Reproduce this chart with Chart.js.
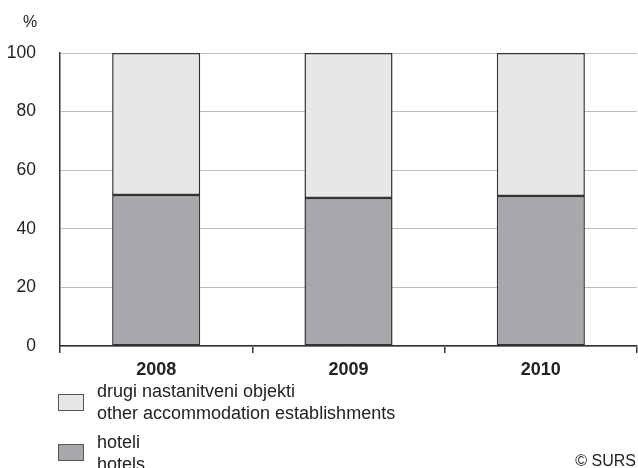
<!DOCTYPE html>
<html>
<head>
<meta charset="utf-8">
<script src="https://cdn.jsdelivr.net/npm/chart.js@4/dist/chart.umd.min.js"></script>
<style>
  html,body{margin:0;padding:0;background:#fff;}
  #wrap{width:638px;height:468px;position:relative;}
</style>
</head>
<body>
<div id="wrap"><canvas id="c" width="638" height="468"></canvas></div>
<script>
// data
const years = ['2008','2009','2010'];
const hoteli = [51.5, 50.5, 51.2];
const drugi = [48.5, 49.5, 48.8];
const yTicks = [0,20,40,60,80,100];
const legendItems = [
  { lines:['drugi nastanitveni objekti','other accommodation establishments'], color:'#e6e7e8' },
  { lines:['hoteli','hotels'], color:'#a7a8ab' }
];

const FONT = 'Liberation Sans, Arial, sans-serif';

// extra text: % unit, legend, source
const extrasPlugin = {
  id:'extras',
  afterDraw(chart){
    const ctx = chart.ctx;
    ctx.save();
    ctx.fillStyle = '#222';
    ctx.font = '16px ' + FONT;
    ctx.textBaseline = 'alphabetic';
    ctx.textAlign = 'left';
    ctx.fillText('%', 23, 27);

    // legend: box top, first baseline
    const rows = [[394, 397], [444, 448]];
    legendItems.forEach((it,i)=>{
      const y = rows[i][0], b = rows[i][1];
      ctx.fillStyle = it.color;
      ctx.fillRect(58, y, 26, 17);
      ctx.strokeStyle = '#555';
      ctx.lineWidth = 1;
      ctx.strokeRect(58.5, y+0.5, 25, 16);
      ctx.fillStyle = '#222';
      ctx.font = '18px ' + FONT;
      ctx.fillText(it.lines[0], 97, b);
      ctx.fillText(it.lines[1], 97, b+22);
    });

    ctx.textAlign = 'right';
    ctx.font = '16px ' + FONT;
    ctx.fillText('© SURS', 636, 466);
    ctx.restore();
  }
};

new Chart(document.getElementById('c').getContext('2d'), {
  type:'bar',
  data:{
    labels: years,
    datasets:[
      { label:'hoteli', data:hoteli, backgroundColor:'#a7a8ab', borderColor:'#333', borderWidth:1.5, borderSkipped:false },
      { label:'drugi nastanitveni objekti', data:drugi, backgroundColor:'#e6e7e8', borderColor:'#333', borderWidth:1.5, borderSkipped:false }
    ]
  },
  plugins:[extrasPlugin],
  options:{
    responsive:false,
    animation:false,
    layout:{ padding:{ top:53, right:1, bottom:90, left:0 } },
    plugins:{ legend:{display:false}, tooltip:{enabled:false} },
    datasets:{ bar:{ categoryPercentage:1, barPercentage:0.458 } },
    scales:{
      x:{
        stacked:true,
        afterFit(s){ s.height = 32; },
        grid:{ display:true, offset:true, drawOnChartArea:false, drawTicks:true, tickLength:7, color:'#333', lineWidth:1.5 },
        border:{ display:true, color:'#333', width:1.5 },
        ticks:{ color:'#222', font:{ family:FONT, size:18, weight:'bold' }, padding:6 }
      },
      y:{
        stacked:true,
        min:0, max:100,
        afterFit(s){ s.width = 60; },
        afterBuildTicks(s){ s.ticks = yTicks.map(v=>({value:v})); },
        grid:{ color:'#bdbdbd', lineWidth:1, drawTicks:false },
        border:{ display:true, color:'#333', width:1.5 },
        ticks:{ color:'#222', font:{ family:FONT, size:17.5 }, padding:24 }
      }
    }
  }
});
</script>
</body>
</html>
